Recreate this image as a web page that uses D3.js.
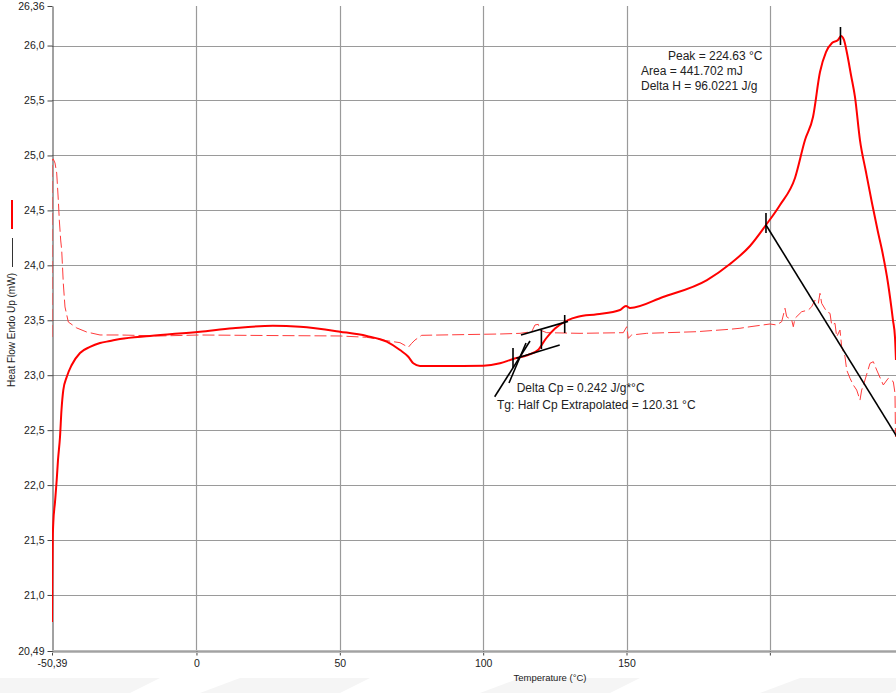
<!DOCTYPE html>
<html>
<head>
<meta charset="utf-8">
<script src="https://cdn.jsdelivr.net/npm/d3@7"></script>
<style>
  html, body { margin: 0; padding: 0; background: #fff; }
  svg { display: block; font-family: "Liberation Sans", Arial, sans-serif; }
</style>
</head>
<body>
<svg id="chart" width="896" height="693"></svg>
<script>
// ---------- data ----------
const xDomain = [-50.39, 244.0];
const yDomain = [20.49, 26.36];
const xTickValues = [-50.39, 0, 50, 100, 150, 200];
const xTickLabels = ["-50,39", "0", "50", "100", "150", ""];
const yTickValues = [20.49, 21.0, 21.5, 22.0, 22.5, 23.0, 23.5, 24.0, 24.5, 25.0, 25.5, 26.0, 26.36];
const yTickLabels = ["20,49", "21,0", "21,5", "22,0", "22,5", "23,0", "23,5", "24,0", "24,5", "25,0", "25,5", "26,0", "26,36"];
const xGridValues = [0, 50, 100, 150, 200];
const yGridValues = [21.0, 21.5, 22.0, 22.5, 23.0, 23.5, 24.0, 24.5, 25.0, 25.5, 26.0];

// solid heating curve (°C, mW)
const solidTemp = [-50.39, -50.32, -50.15, -49.94, -49.34, -48.75, -48.30, -47.60, -47.08, -46.45, -45.26, -43.52, -40.62, -37.14, -33.65, -30.16, -26.67, -16.21, 1.23, 12.74, 26.69, 36.11, 50.06, 59.38, 66.35, 70.99, 73.89, 75.63, 77.97, 88.43, 100.05, 105.87, 110.41, 115.64, 119.13, 121.92, 125.06, 129.59, 133.08, 139.71, 147.73, 149.82, 151.22, 162.73, 178.07, 186.10, 193.07, 198.65, 203.54, 208.77, 212.26, 215.05, 217.49, 219.58, 221.67, 223.76, 224.80, 225.85, 226.90, 228.30, 229.69, 231.43, 233.53, 235.62, 237.71, 239.11, 241.20, 242.94, 243.64, 243.99];
const solidFlow = [20.754, 21.0, 21.5, 21.655, 21.846, 22.046, 22.228, 22.438, 22.683, 22.865, 22.984, 23.093, 23.202, 23.257, 23.293, 23.311, 23.329, 23.357, 23.396, 23.427, 23.45, 23.441, 23.396, 23.357, 23.305, 23.229, 23.168, 23.108, 23.084, 23.084, 23.086, 23.108, 23.147, 23.184, 23.229, 23.334, 23.425, 23.502, 23.532, 23.554, 23.593, 23.63, 23.612, 23.712, 23.866, 24.012, 24.176, 24.367, 24.549, 24.795, 25.14, 25.35, 25.759, 25.941, 26.023, 26.051, 26.087, 26.051, 25.932, 25.732, 25.532, 25.14, 24.849, 24.567, 24.303, 24.139, 23.839, 23.502, 23.348, 23.138];

// dashed curve (°C, mW)
const dashedTemp = [-50.39, -50.39, -49.94, -49.34, -48.75, -48.19, -47.84, -47.36, -47.01, -46.45, -45.86, -44.70, -41.77, -38.29, -33.65, -26.67, -12.72, 1.23, 25.65, 50.06, 59.38, 66.35, 70.99, 73.89, 75.07, 76.22, 78.56, 105.87, 112.85, 116.93, 118.08, 119.23, 119.82, 122.16, 133.78, 148.88, 150.07, 150.62, 151.81, 157.04, 174.48, 186.10, 189.58, 193.07, 200.05, 202.38, 204.13, 205.28, 205.87, 207.62, 208.18, 208.77, 211.11, 213.41, 214.59, 215.74, 216.90, 217.49, 218.08, 219.82, 220.98, 221.57, 222.72, 223.31, 224.46, 225.06, 226.21, 226.80, 227.95, 229.10, 230.29, 231.44, 232.03, 233.18, 234.93, 236.08, 237.27, 239.57, 241.31, 243.06, 243.65, 243.82];
const dashedFlow = [23.348, 24.958, 24.968, 24.931, 24.84, 24.594, 24.412, 24.23, 24.139, 23.839, 23.621, 23.484, 23.43, 23.393, 23.366, 23.366, 23.357, 23.366, 23.361, 23.357, 23.345, 23.314, 23.296, 23.254, 23.29, 23.32, 23.363, 23.375, 23.381, 23.396, 23.457, 23.463, 23.411, 23.387, 23.381, 23.387, 23.441, 23.336, 23.366, 23.381, 23.396, 23.418, 23.427, 23.441, 23.466, 23.457, 23.487, 23.609, 23.532, 23.502, 23.441, 23.518, 23.578, 23.593, 23.623, 23.684, 23.654, 23.745, 23.654, 23.578, 23.563, 23.457, 23.472, 23.35, 23.411, 23.259, 23.168, 23.047, 22.972, 22.911, 22.865, 22.774, 22.865, 22.956, 23.108, 23.123, 23.047, 22.911, 22.972, 22.941, 22.835, 22.438];

// black analysis construction segments [T1, V1, T2, V2]
const analysisSegments = [
  [198.65, 24.367, 246.0, 22.37],   // peak baseline
  [198.65, 24.476, 198.65, 24.294], // baseline start tick
  [224.63, 26.169, 224.63, 26.005], // peak marker
  [113.2, 23.366, 129.6, 23.49],    // Tg upper baseline
  [128.44, 23.548, 128.44, 23.384], // upper limit tick
  [111.56, 23.154, 126.7, 23.275],  // Tg lower baseline
  [110.41, 23.248, 110.41, 23.066], // lower limit tick
  [120.31, 23.411, 120.31, 23.238], // half Cp marker
  [104.02, 22.804, 116.34, 23.311], // tangent
  [109.01, 22.929, 114.94, 23.293]  // inflection line
];

const annotTexts = ["Peak = 224.63 °C", "Area = 441.702 mJ", "Delta H = 96.0221 J/g", "Delta Cp = 0.242 J/g*°C", "Tg: Half Cp Extrapolated = 120.31 °C"];
const annotTemp = [164.47, 155.05, 155.05, 111.7, 104.83];
const annotFlow = [25.869, 25.732, 25.596, 22.85, 22.69];

// ---------- layout ----------
const svg = d3.select("#chart");
const mLeft = 52, mRight = 896, mTop = 6, mBottom = 651;
const x = d3.scaleLinear().domain(xDomain).range([mLeft, mRight]);
const y = d3.scaleLinear().domain(yDomain).range([mBottom, mTop]);

// faint watermark band at bottom
const wm = svg.append("g").attr("fill", "#f5f5f5");
[[-40, 120], [200, 330], [480, 600], [760, 880]].forEach(([a, b]) => {
  wm.append("path").attr("d", `M${a + 40},678 L${b + 40},678 L${b + 10},693 L${a},693 Z`);
});

svg.append("defs").append("clipPath").attr("id", "plot")
  .append("rect").attr("x", mLeft).attr("y", mTop).attr("width", mRight - mLeft).attr("height", mBottom - mTop);

// gridlines
const grid = svg.append("g").attr("stroke", "#9a9a9a").attr("stroke-width", 1.2);
grid.selectAll(".hg").data(yGridValues).join("line")
  .attr("x1", mLeft).attr("x2", mRight)
  .attr("y1", d => Math.round(y(d)) + 0.5).attr("y2", d => Math.round(y(d)) + 0.5);
grid.selectAll(".vg").data(xGridValues).join("line")
  .attr("y1", mTop).attr("y2", mBottom)
  .attr("x1", d => Math.round(x(d)) + 0.5).attr("x2", d => Math.round(x(d)) + 0.5);

// axes
const yAxis = d3.axisLeft(y).tickValues(yTickValues)
  .tickFormat((d, i) => yTickLabels[i]).tickSize(5).tickSizeOuter(0);
const gy = svg.append("g").attr("transform", `translate(${mLeft + 0.5},0)`).call(yAxis);
gy.select(".domain").attr("stroke", "#444");
gy.selectAll(".tick line").attr("stroke", "#444");
gy.selectAll(".tick text").attr("fill", "#222").attr("font-size", "10.5px")
  .attr("font-family", "Liberation Sans, Arial, sans-serif").attr("x", -8);

const xAxis = d3.axisBottom(x).tickValues(xTickValues)
  .tickFormat((d, i) => xTickLabels[i]).tickSize(4).tickSizeOuter(0);
const gx = svg.append("g").attr("transform", `translate(0,${mBottom + 0.5})`).call(xAxis);
gx.select(".domain").attr("stroke", "#444");
gx.selectAll(".tick line").attr("stroke", "#444");
gx.selectAll(".tick text").attr("fill", "#222").attr("font-size", "10.5px")
  .attr("font-family", "Liberation Sans, Arial, sans-serif").attr("y", 8);
svg.append("line").attr("x1", mLeft).attr("x2", mRight).attr("y1", mBottom - 0.5).attr("y2", mBottom - 0.5)
  .attr("stroke", "#bbb");
svg.append("line").attr("x1", mLeft).attr("x2", mRight).attr("y1", mBottom + 1.5).attr("y2", mBottom + 1.5)
  .attr("stroke", "#bbb");

// axis titles
svg.append("text").attr("x", 550).attr("y", 681).attr("text-anchor", "middle")
  .attr("font-size", "9.5px").attr("fill", "#222").text("Temperature (°C)");
svg.append("text").attr("transform", "translate(15,330) rotate(-90)").attr("text-anchor", "middle")
  .attr("font-size", "10px").attr("fill", "#222").text("Heat Flow Endo Up (mW)");
// legend swatches
svg.append("line").attr("x1", 12).attr("x2", 12).attr("y1", 200).attr("y2", 229)
  .attr("stroke", "#ff0000").attr("stroke-width", 2);
svg.append("line").attr("x1", 12.5).attr("x2", 12.5).attr("y1", 238).attr("y2", 267)
  .attr("stroke", "#333").attr("stroke-width", 1);

// curves
const plot = svg.append("g").attr("clip-path", "url(#plot)");
const dashedData = dashedTemp.map((t, i) => [t, dashedFlow[i]]);
const solidData = solidTemp.map((t, i) => [t, solidFlow[i]]);
const lineLin = d3.line().x(d => x(d[0])).y(d => y(d[1]));
const lineSmooth = d3.line().x(d => x(d[0])).y(d => y(d[1])).curve(d3.curveMonotoneX);

plot.append("path").datum(dashedData).attr("d", lineLin)
  .attr("fill", "none").attr("stroke", "#ff3b3b").attr("stroke-width", 1)
  .attr("stroke-dasharray", "12,4");
plot.append("path").datum(solidData).attr("d", lineSmooth)
  .attr("fill", "none").attr("stroke", "#ff0000").attr("stroke-width", 2);

// analysis construction
plot.selectAll(".seg").data(analysisSegments).join("line")
  .attr("x1", d => x(d[0])).attr("y1", d => y(d[1]))
  .attr("x2", d => x(d[2])).attr("y2", d => y(d[3]))
  .attr("stroke", "#000").attr("stroke-width", 1.6);

// annotation texts
svg.selectAll(".annot").data(annotTexts).join("text")
  .attr("x", (d, i) => x(annotTemp[i])).attr("y", (d, i) => y(annotFlow[i]))
  .attr("font-size", "12px").attr("fill", "#222").text(d => d);
</script>
</body>
</html>
